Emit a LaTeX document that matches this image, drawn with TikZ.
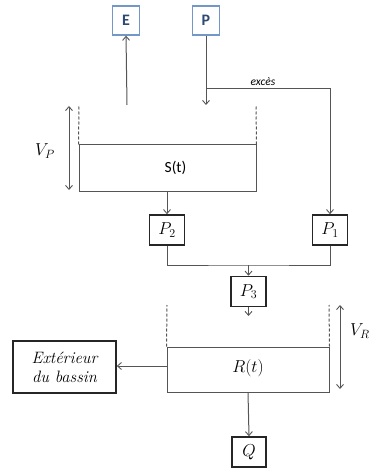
\documentclass[tikz,border=0pt]{standalone}
\usepackage{fontspec}
\newfontfamily\carl{Carlito}
\usetikzlibrary{arrows.meta}
\definecolor{linegray}{HTML}{555555}
\definecolor{boxblue}{HTML}{7397C8}
\definecolor{textblue}{HTML}{2E4A73}
\tikzset{
  conn/.style={draw=linegray, line width=1pt},
  arr/.style={conn, -{Straight Barb[length=4pt,width=7pt,line width=0.9pt]}},
  darr/.style={conn, {Straight Barb[length=4pt,width=7pt,line width=0.9pt]}-{Straight Barb[length=4pt,width=7pt,line width=0.9pt]}},
  bluebox/.style={draw=boxblue, line width=1.4pt, inner sep=0pt, minimum width=27pt, minimum height=29pt, text=textblue, font=\carl\bfseries\fontsize{16}{18}\selectfont},
  pbox/.style={draw=black!85, line width=1.6pt, inner sep=0pt, minimum width=35pt, minimum height=30pt, font=\fontsize{17}{20}\selectfont},
  tank/.style={draw=linegray, line width=1pt, inner sep=0pt},
  dashline/.style={draw=linegray, line width=1pt, dash pattern=on 3pt off 2pt},
}
\begin{document}
\begin{tikzpicture}[x=1pt,y=-1pt]
\useasboundingbox (0,0) rectangle (371,470);
% top boxes
\node[bluebox] (E) at (126,20.5) {E};
\node[bluebox] (P) at (206,20.5) {P};
\coordinate (Ein) at (127,105);
\coordinate (Pout) at (206,105);
\coordinate (Pbr) at (206,89);
\coordinate (Pc) at (330,89);
% S tank
\node[tank, minimum width=177pt, minimum height=46pt] (S) at (167.5,168) {};
\node[font=\carl\fontsize{15.5}{18}\selectfont] (St) at (175.5,167.5) {S(t)};
\coordinate (SLt) at (79,105);
\coordinate (SRt) at (256,105);
\draw[dashline] (S.north west) -- (SLt);
\draw[dashline] (S.north east) -- (SRt);
% V_P
\coordinate (VPa) at (69,106);
\coordinate (VPb) at (69,190);
\draw[darr] (VPa) -- (VPb);
\node[font=\fontsize{17}{20}\selectfont] (VP) at (45,151) {$V_P$};
% P boxes
\node[pbox] (P2) at (167,230) {$P_2$};
\node[pbox] (P1) at (330,230) {$P_1$};
\node[pbox] (P3) at (248.5,291.5) {$P_3$};
% connectors top
\draw[arr] (Ein) -- (E.south);
\draw[arr] (P.south) -- (Pout);
\draw[arr] (Pbr) -- (Pc) -- (P1.north);
\node[font=\carl\itshape\fontsize{11.5}{13}\selectfont] (exc) at (263,82) {excès};
\draw[arr] (S.south -| P2.north) -- (P2.north);
\coordinate (J) at (248.5,265);
\draw[conn] (P2.south) |- (J) -| (P1.south);
\draw[arr] (J) -- (P3.north);
\coordinate (P3o) at (248.5,316);
\draw[arr] (P3.south) -- (P3o);
% R tank
\node[tank, minimum width=162pt, minimum height=45pt] (R) at (248,369.5) {};
\node[font=\fontsize{17}{20}\selectfont] (Rt) at (248,368) {$R(t)$};
\coordinate (RLt) at (167,305);
\coordinate (RRt) at (329,305);
\draw[dashline] (R.north west) -- (RLt);
\draw[dashline] (R.north east) -- (RRt);
\coordinate (VRa) at (340,305);
\coordinate (VRb) at (340,389);
\draw[darr] (VRa) -- (VRb);
\node[font=\fontsize{17}{20}\selectfont, anchor=west, inner sep=0pt] (VR) at (350,331) {$V_R$};
% exterior
\node[pbox, minimum width=103pt, minimum height=52pt, align=center, font=\itshape\fontsize{16.5}{19}\selectfont] (Ext) at (64.5,367) {Extérieur\\du bassin};
\coordinate (Rw) at (167,366);
\draw[arr] (Rw) -- (Rw -| Ext.east);
% Q
\node[pbox, minimum width=34pt] (Q) at (249,452) {$Q$};
\draw[arr] (R.south) -- (Q.north);
\end{tikzpicture}
\end{document}
